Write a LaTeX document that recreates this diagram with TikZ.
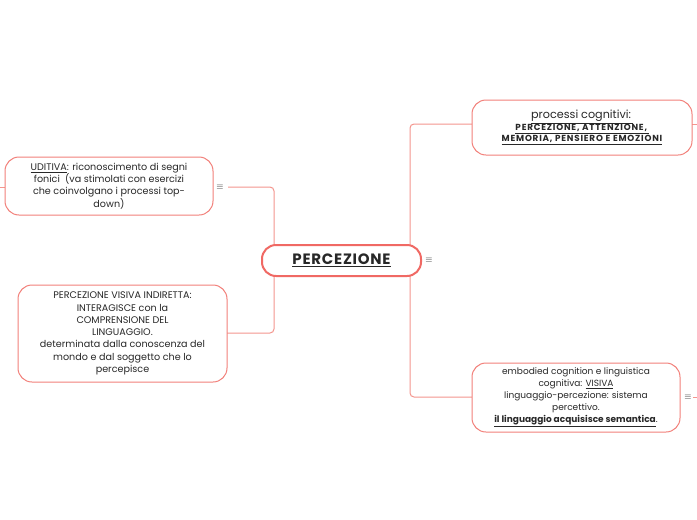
\documentclass[tikz,border=0pt]{standalone}
\usepackage{fontspec}
\setmainfont{Poppins}
\begin{document}
\begin{tikzpicture}[x=1pt,y=-1pt,
  box/.style={draw=bordc, line width=1pt, rounded corners=14pt, fill=white, align=center,
    font=\fontsize{9.6}{12.3}\selectfont, text=txt, inner sep=0pt},
  mainbox/.style={draw=mainc, line width=2pt, rounded corners=14pt, fill=white, align=center,
    font=\fontsize{15}{16}\selectfont\bfseries\addfontfeature{LetterSpace=5}, text=txt, inner sep=0pt},
  conn/.style={draw=linec, line width=1pt, rounded corners=4pt},
  menu/.style={font=\fontsize{9}{9}\selectfont, text=txt, inner sep=0pt}]
\definecolor{bordc}{RGB}{242,128,122}
\definecolor{mainc}{RGB}{240,105,100}
\definecolor{linec}{RGB}{244,150,142}
\definecolor{txt}{RGB}{40,40,40}
\useasboundingbox (0,0) rectangle (697,520);
\fill[white] (0,0) rectangle (697,520);

% connectors (drawn first)
\coordinate (lt) at (274,245);
\coordinate (lb) at (274,276);
\coordinate (rt) at (410,245);
\coordinate (rb) at (410,276);
\draw[conn] (lt) -- (274,187) -- (228,187);
\draw[conn] (lb) -- (274,333) -- (227,333);
\draw[conn] (rt) -- (410,124) -- (472,124);
\draw[conn] (rb) -- (410,397) -- (472,397);
\draw[conn] (0,187) -- (5,187);
\draw[conn] (692,124) -- (697,124);
\draw[conn] (693,397) -- (697,397);

\node[mainbox, minimum width=159pt, minimum height=31pt] (main) at (341.5,260.5) {\underline{PERCEZIONE}};
\node[menu] (m0) at (429,260) {$\equiv$};

\node[box, minimum width=220pt, minimum height=55pt] (proc) at (582,127.5)
 {{\fontsize{11.2}{13}\selectfont\underline{processi cognitivi:\,}}\\[-1pt]
  {\fontsize{8.8}{11.5}\selectfont\bfseries\addfontfeature{LetterSpace=9}\underline{PERCEZIONE, ATTENZIONE,\,}}\\[-1pt]
  {\fontsize{8.8}{11.5}\selectfont\bfseries\addfontfeature{LetterSpace=9}\underline{MEMORIA, PENSIERO E EMOZIONI}}};

\node[box, minimum width=208pt, minimum height=58pt] (udi) at (109,186)
 {\underline{UDITIVA}: riconoscimento di segni\\fonici\ \ (va stimolati con esercizi\\che coinvolgano i processi top-\\down)};
\node[menu] (m1) at (220,187) {$\equiv$};

\node[box, minimum width=209pt, minimum height=97pt] (vis) at (122.5,333.5)
 {PERCEZIONE VISIVA INDIRETTA:\\INTERAGISCE con la\\COMPRENSIONE DEL\\LINGUAGGIO.\\determinata dalla conoscenza del\\mondo e dal soggetto che lo\\percepisce};

\node[box, minimum width=208pt, minimum height=69pt, font=\fontsize{9}{12}\selectfont] (emb) at (576,397.5)
 {embodied cognition e linguistica\\cognitiva: \underline{VISIVA}\\linguaggio-percezione: sistema\\percettivo.\\\textbf{\underline{il linguaggio acquisisce semantica}}.};
\node[menu] (m2) at (688,397) {$\equiv$};
\end{tikzpicture}
\end{document}
